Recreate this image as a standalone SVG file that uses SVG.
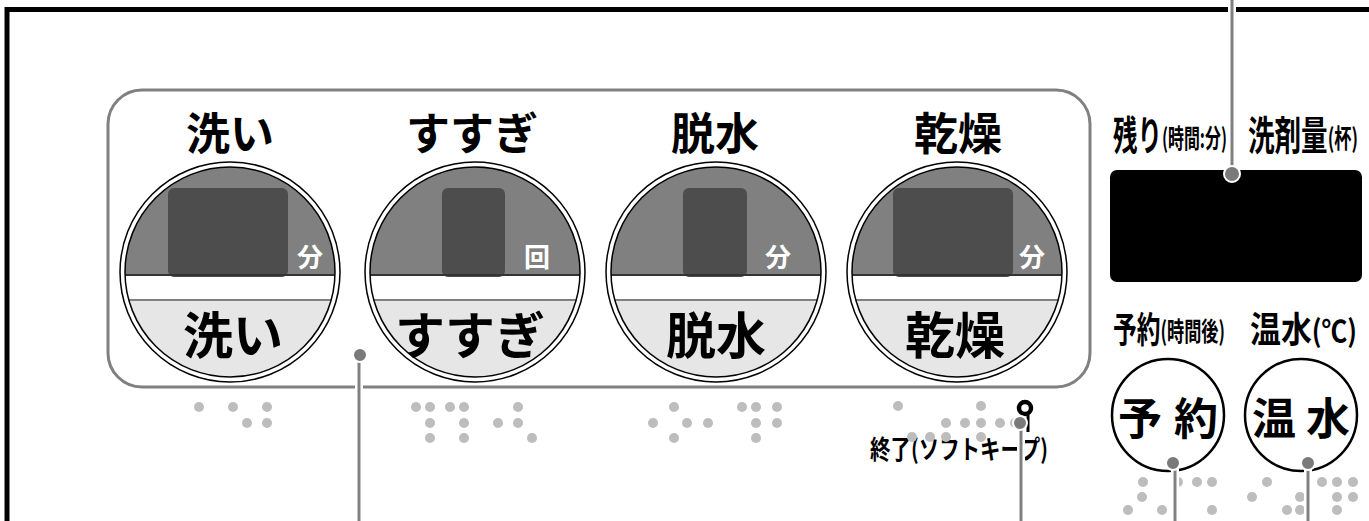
<svg xmlns="http://www.w3.org/2000/svg" width="1369" height="521" viewBox="0 0 1369 521">
<style>
.t{font-family:"Noto Sans CJK JP","Noto Sans",sans-serif;font-weight:bold;fill:#000}
.top{font-size:44px;text-anchor:middle}
.bot{font-size:50px;text-anchor:middle}
.unit{font-size:26px;text-anchor:middle;fill:#fff}
.br{fill:#bdbdbd}
.halo{stroke:#fff;stroke-width:8;fill:none}
.conn{stroke:#808080;stroke-width:3;fill:none}
.cdot{fill:#7a7a7a;stroke:#fff;stroke-width:2}
</style>
<defs>
<clipPath id="inner" clipPathUnits="userSpaceOnUse"><circle cx="0" cy="0" r="105"/></clipPath>
<g id="dialbase">
<circle cx="0" cy="0" r="110" fill="#fff" stroke="#000" stroke-width="1.5"/>
<g clip-path="url(#inner)">
<rect x="-110" y="-110" width="220" height="113" fill="#808080"/>
<rect x="-110" y="3" width="220" height="25" fill="#fff"/>
<rect x="-110" y="28" width="220" height="85" fill="#e6e6e6"/>
<line x1="-110" y1="3" x2="110" y2="3" stroke="#333" stroke-width="2"/>
<line x1="-110" y1="28" x2="110" y2="28" stroke="#808080" stroke-width="2"/>
</g>
<circle cx="0" cy="0" r="105" fill="none" stroke="#000" stroke-width="1.5"/>
</g>
</defs>
<rect width="1369" height="521" fill="#fff"/>
<path d="M7 521 V9.5 H1369" fill="none" stroke="#000" stroke-width="5"/>
<rect x="108" y="90" width="982" height="297" rx="34" fill="none" stroke="#808080" stroke-width="3"/>

<g id="dial-wash">
<text class="t top" x="230" y="150">洗い</text>
<use href="#dialbase" x="230" y="272"/>
<rect x="168" y="188" width="120" height="89" rx="6" fill="#4d4d4d"/>
<line x1="168" y1="275" x2="288" y2="275" stroke="#333" stroke-width="2"/>
<text class="t unit" x="310" y="267">分</text>
<text class="t bot" x="233" y="354">洗い</text>
</g>
<g id="dial-rinse">
<text class="t top" x="472" y="150">すすぎ</text>
<use href="#dialbase" x="475" y="272"/>
<rect x="442" y="188" width="63" height="89" rx="6" fill="#4d4d4d"/>
<line x1="442" y1="275" x2="505" y2="275" stroke="#333" stroke-width="2"/>
<text class="t unit" x="537" y="267">回</text>
<text class="t bot" x="470" y="354">すすぎ</text>
</g>
<g id="dial-spin">
<text class="t top" x="715" y="150">脱水</text>
<use href="#dialbase" x="716" y="272"/>
<rect x="683" y="188" width="64" height="89" rx="6" fill="#4d4d4d"/>
<line x1="683" y1="275" x2="747" y2="275" stroke="#333" stroke-width="2"/>
<text class="t unit" x="778" y="267">分</text>
<text class="t bot" x="716" y="354">脱水</text>
</g>
<g id="dial-dry">
<text class="t top" x="958" y="150">乾燥</text>
<use href="#dialbase" x="957" y="272"/>
<rect x="893" y="188" width="120" height="89" rx="6" fill="#4d4d4d"/>
<line x1="893" y1="275" x2="1013" y2="275" stroke="#333" stroke-width="2"/>
<text class="t unit" x="1032" y="267">分</text>
<text class="t bot" x="955" y="354">乾燥</text>
</g>

<g id="display">
<text class="t" x="1113" y="150" font-size="40" textLength="114" lengthAdjust="spacingAndGlyphs">残り<tspan font-size="26" dy="-2">(時間:分)</tspan></text>
<text class="t" x="1248" y="150" font-size="40" textLength="110" lengthAdjust="spacingAndGlyphs">洗剤量<tspan font-size="26" dy="-2">(杯)</tspan></text>
<rect x="1110" y="170" width="252" height="112" rx="7" fill="#000"/>
</g>

<g id="btn-timer">
<text class="t" x="1113" y="343" font-size="36" textLength="112" lengthAdjust="spacingAndGlyphs">予約<tspan font-size="26" dy="-2">(時間後)</tspan></text>
<circle cx="1168" cy="415" r="56" fill="#fff" stroke="#000" stroke-width="2.5"/>
<text class="t" x="1118" y="435" font-size="44" textLength="100" lengthAdjust="spacing">予約</text>
</g>
<g id="btn-warm">
<text class="t" x="1250" y="343" font-size="36" textLength="107" lengthAdjust="spacingAndGlyphs">温水<tspan font-size="30" dy="-1">(℃)</tspan></text>
<circle cx="1301" cy="415" r="56" fill="#fff" stroke="#000" stroke-width="2.5"/>
<text class="t" x="1252" y="435" font-size="44" textLength="98" lengthAdjust="spacing">温水</text>
</g>

<g id="end-label">
<text class="t" x="870" y="459" font-size="26" textLength="178" lengthAdjust="spacingAndGlyphs">終了(ソフトキープ)</text>
<circle cx="1025" cy="408" r="6" fill="none" stroke="#000" stroke-width="4.5"/>
<line x1="1028" y1="413" x2="1028" y2="432" stroke="#000" stroke-width="3"/>
</g>

<g id="braille">
<circle class="br" cx="199" cy="407" r="5"/><circle class="br" cx="233" cy="407" r="5"/><circle class="br" cx="267" cy="407" r="5"/>
<circle class="br" cx="247" cy="423" r="5"/><circle class="br" cx="267" cy="423" r="5"/>
<circle class="br" cx="416" cy="407" r="5"/><circle class="br" cx="430" cy="407" r="5"/><circle class="br" cx="450" cy="407" r="5"/><circle class="br" cx="464" cy="407" r="5"/><circle class="br" cx="518" cy="407" r="5"/>
<circle class="br" cx="430" cy="423" r="5"/><circle class="br" cx="464" cy="423" r="5"/><circle class="br" cx="498" cy="423" r="5"/><circle class="br" cx="518" cy="423" r="5"/>
<circle class="br" cx="430" cy="438" r="5"/><circle class="br" cx="464" cy="438" r="5"/><circle class="br" cx="532" cy="438" r="5"/>
<circle class="br" cx="674" cy="407" r="5"/><circle class="br" cx="742" cy="407" r="5"/><circle class="br" cx="756" cy="407" r="5"/><circle class="br" cx="777" cy="407" r="5"/>
<circle class="br" cx="653" cy="423" r="5"/><circle class="br" cx="687" cy="423" r="5"/><circle class="br" cx="708" cy="423" r="5"/><circle class="br" cx="756" cy="423" r="5"/><circle class="br" cx="777" cy="423" r="5"/>
<circle class="br" cx="674" cy="438" r="5"/><circle class="br" cx="756" cy="438" r="5"/>
<circle class="br" cx="898" cy="406" r="5"/><circle class="br" cx="981" cy="406" r="5"/>
<circle class="br" cx="946" cy="423" r="5"/><circle class="br" cx="965" cy="423" r="5"/><circle class="br" cx="981" cy="423" r="5"/><circle class="br" cx="1000" cy="423" r="5"/><circle class="br" cx="1015" cy="423" r="5"/>
<circle class="br" cx="912" cy="437" r="5"/><circle class="br" cx="930" cy="437" r="5"/><circle class="br" cx="946" cy="437" r="5"/><circle class="br" cx="981" cy="437" r="5"/>
<circle class="br" cx="1143" cy="482" r="5"/><circle class="br" cx="1178" cy="482" r="5"/><circle class="br" cx="1197" cy="482" r="5"/><circle class="br" cx="1212" cy="482" r="5"/>
<circle class="br" cx="1142" cy="497" r="5"/>
<circle class="br" cx="1128" cy="510" r="5"/><circle class="br" cx="1162" cy="510" r="5"/><circle class="br" cx="1212" cy="510" r="5"/>
<circle class="br" cx="1267" cy="482" r="5"/><circle class="br" cx="1322" cy="482" r="5"/><circle class="br" cx="1337" cy="482" r="5"/><circle class="br" cx="1353" cy="482" r="5"/>
<circle class="br" cx="1252" cy="497" r="5"/><circle class="br" cx="1300" cy="497" r="5"/><circle class="br" cx="1337" cy="497" r="5"/><circle class="br" cx="1353" cy="497" r="5"/>
<circle class="br" cx="1287" cy="510" r="5"/><circle class="br" cx="1300" cy="510" r="5"/><circle class="br" cx="1337" cy="510" r="5"/>
</g>

<g id="connectors">
<line class="halo" x1="1232" y1="0" x2="1232" y2="174"/>
<line class="conn" x1="1232" y1="0" x2="1232" y2="174"/>
<circle class="cdot" cx="1232" cy="174" r="8"/>
<line class="halo" x1="359" y1="355" x2="359" y2="521"/>
<line class="conn" x1="359" y1="355" x2="359" y2="521"/>
<circle class="cdot" cx="360" cy="355" r="7"/>
<line class="halo" x1="1021" y1="423" x2="1021" y2="521"/>
<line class="conn" x1="1021" y1="423" x2="1021" y2="521"/>
<circle class="cdot" cx="1020" cy="423" r="7"/>
<line class="halo" x1="1175" y1="463" x2="1175" y2="521"/>
<line class="conn" x1="1175" y1="463" x2="1175" y2="521"/>
<circle class="cdot" cx="1173" cy="463" r="7"/>
<line class="halo" x1="1308" y1="463" x2="1308" y2="521"/>
<line class="conn" x1="1308" y1="463" x2="1308" y2="521"/>
<circle class="cdot" cx="1308" cy="463" r="7"/>
</g>
</svg>
